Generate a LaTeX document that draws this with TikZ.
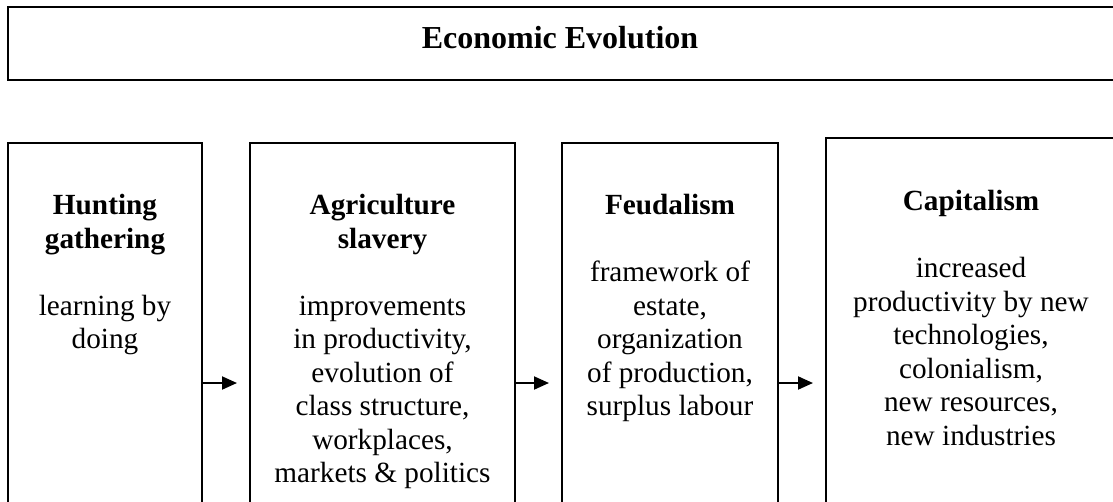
\documentclass[tikz,border=0pt]{standalone}
\usepackage{fontspec}
\setmainfont{Liberation Serif}
\usetikzlibrary{arrows.meta,positioning,calc}

\begin{document}
\begin{tikzpicture}[x=0.4pt, y=-0.4pt, font=\fontsize{11.7}{13.4}\selectfont,
    frame/.style={draw, line width=0.8pt, anchor=north west, inner sep=0pt, outer sep=0pt},
    stage/.style={align=center, anchor=north, inner sep=0pt},
    arr/.style={line width=0.8pt, -{Triangle[length=6pt, width=5.2pt]}, shorten >=5.2pt}]
  \useasboundingbox (0,0) rectangle (1113,501);
  \clip (0,0) rectangle (1113,501);

  % heading bar
  \node[frame, minimum width=443.2pt, minimum height=29.2pt] (title) at (8,7) {};
  \node[anchor=base, inner sep=0pt, font=\fontsize{12.8}{15}\selectfont\bfseries] (titletext)
    at ($(title.north)+(-2,41)$) {Economic Evolution};

  % the four stages, open at the bottom
  \foreach \n/\x/\y/\w in {hunt/8/143/77.6, agri/250/143/106, feud/562/143/86.4, capi/826/138/116}
    \node[frame, minimum width=\w pt, minimum height=160pt] (\n) at (\x,\y) {};

  \node[stage] (hunttext) at ($(hunt.north)+(0,51)$)
    {\textbf{Hunting}\\\textbf{gathering}\\[13.4pt]learning by\\doing};
  \node[stage] (agritext) at ($(agri.north)+(0,51)$)
    {\textbf{Agriculture}\\\textbf{slavery}\\[13.4pt]improvements\\in productivity,\\evolution of\\class structure,\\workplaces,\\markets \& politics};
  \node[stage] (feudtext) at ($(feud.north)+(0,51)$)
    {\textbf{Feudalism}\\[13.4pt]framework of\\estate,\\organization\\of production,\\surplus labour};
  \node[stage] (capitext) at ($(capi.north)+(0,52)$)
    {\textbf{Capitalism}\\[13.4pt]increased\\productivity by new\\technologies,\\colonialism,\\new resources,\\new industries};

  \coordinate (ay) at (0,383);
  \draw[arr] (hunt.east |- ay) -- (agri.west |- ay);
  \draw[arr] (agri.east |- ay) -- (feud.west |- ay);
  \draw[arr] (feud.east |- ay) -- (capi.west |- ay);
\end{tikzpicture}
\end{document}
